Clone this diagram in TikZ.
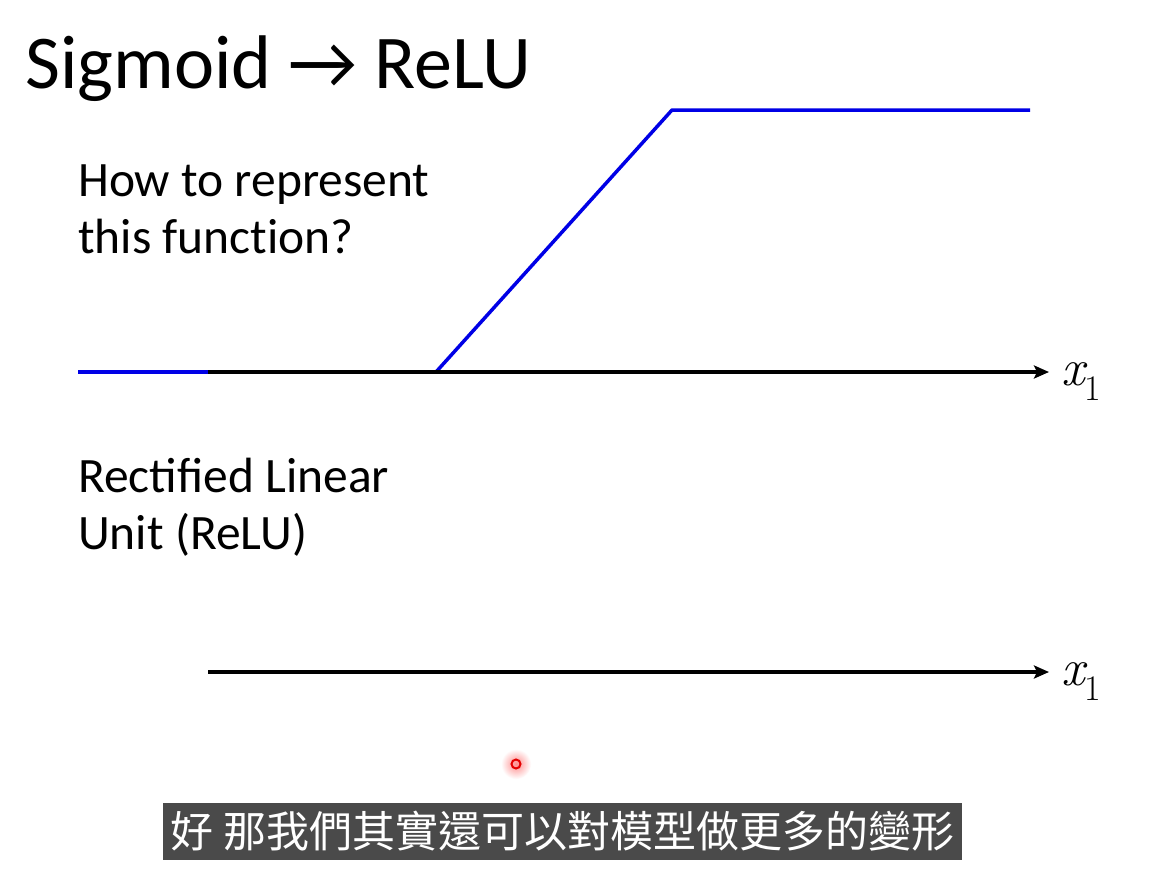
\documentclass[tikz,border=0pt]{standalone}
\usepackage{fontspec}
\setmainfont{Carlito}
\newfontfamily\cjk{Noto Sans CJK TC}
\newfontfamily\lmr{Latin Modern Roman}
\usetikzlibrary{arrows.meta,positioning}
\definecolor{reluBlue}{RGB}{0,0,230}
\definecolor{subBg}{RGB}{74,74,74}
\newcommand{\xone}{{\itshape x}\raisebox{-0.3em}{\fontsize{36}{36}\selectfont 1}}

\begin{document}
\begin{tikzpicture}[
    x=1pt, y=-1pt,
    axis/.style={line width=3.5pt, -{Stealth[length=15pt, width=13pt, inset=3pt]}},
    relu/.style={line width=3.5pt, draw=reluBlue, line join=round},
    txt/.style={inner sep=0pt, anchor=base west, align=left,
                font=\fontsize{49.5}{57}\selectfont},
    lbl/.style={inner sep=0pt, anchor=base west, font=\lmr\fontsize{52}{52}\selectfont}
]
\useasboundingbox[fill=white] (0,0) rectangle (1153,876);

%% title and texts (base anchor sits on the last line)
\node[txt, font=\fontsize{76}{80}\selectfont] (title) at (25,88) {Sigmoid → ReLU};
\node[txt] (question) at (78,253) {How to represent\\this funct\kern0pt ion?};
\node[txt] (reluname) at (78,549) {Rectified Linear\\Unit (ReLU)};

%% upper plot: the function to represent
\coordinate (left0)  at (78,372);
\coordinate (axis0)  at (208,372);
\coordinate (tip0)   at (1049,372);
\coordinate (knee0)  at (436,372);
\coordinate (knee1)  at (672,110);
\coordinate (end0)   at (1030,110);

\draw[relu] (left0) -- (axis0);
\draw[relu] (knee0) -- (knee1) -- (end0);
\draw[axis] (axis0) -- (tip0);
\node[lbl] (xa) at (1061,385) {\xone};

%% lower plot
\coordinate (axis1) at (208,672);
\coordinate (tip1)  at (1049,672);
\draw[axis] (axis1) -- (tip1);
\node[lbl] (xb) at (1061,685) {\xone};

%% pointer dot
\coordinate (dot) at (516,764);
\shade[inner color=red!45, outer color=white] (dot) circle (15);
\draw[red!90!black, line width=2pt] (dot) circle (4.5);

%% subtitle
\node[fill=subBg, text=white, inner sep=0pt, minimum width=799pt, minimum height=57pt,
      font=\cjk\fontsize{43}{43}\selectfont] (subtitle) at (562.5,831.5)
      {好 那我們其實還可以對模型做更多的變形};

\end{tikzpicture}
\end{document}
